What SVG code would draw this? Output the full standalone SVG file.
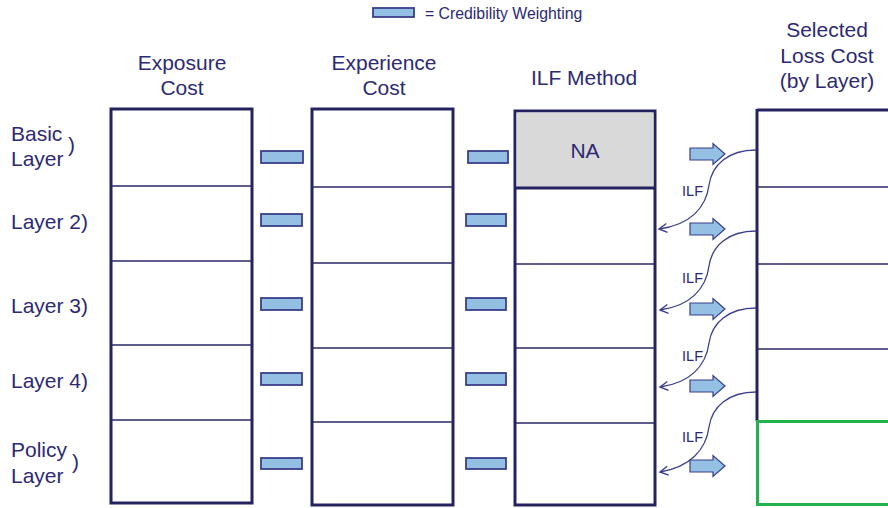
<svg xmlns="http://www.w3.org/2000/svg" width="888" height="508" viewBox="0 0 888 508">
<style>
text{font-family:"Liberation Sans",Arial,sans-serif;fill:#2d2a73}
.h{font-size:21px;text-anchor:middle}
.l{font-size:21px}
.ilf{font-size:14.5px;text-anchor:end}
.box{fill:#fff;stroke:#24235f;stroke-width:3}
.div{stroke:#2a2966;stroke-width:1.6;fill:none}
.cw{fill:#93c0e3;stroke:#3b3f8c;stroke-width:1.8}
.blk{fill:#93c0e3;stroke:#3b3f8c;stroke-width:1.2}
.crv{fill:none;stroke:#3b3f8c;stroke-width:1.3}
</style>
<defs>
<marker id="open" markerUnits="userSpaceOnUse" markerWidth="14" markerHeight="14" viewBox="-10 -7 12 14" refX="0" refY="0" orient="auto">
<path d="M-8,-4.5 L0,0 L-8,4.5" fill="none" stroke="#3b3f8c" stroke-width="1.4"/>
</marker>
<path id="blk" d="M0,-6 L23,-6 L23,-10.5 L35,0 L23,10.5 L23,6 L0,6 Z"/>
</defs>

<g id="legend">
<rect class="cw" x="373" y="8" width="41" height="9"/>
<text x="425" y="19" style="font-size:15.8px">= Credibility Weighting</text>
</g>

<g id="headers">
<text class="h" x="182" y="70">Exposure</text>
<text class="h" x="182" y="95">Cost</text>
<text class="h" x="384" y="70">Experience</text>
<text class="h" x="384" y="95">Cost</text>
<text class="h" x="584" y="85">ILF Method</text>
<text class="h" x="827" y="37">Selected</text>
<text class="h" x="827" y="63">Loss Cost</text>
<text class="h" x="827" y="88">(by Layer)</text>
</g>

<g id="row-labels">
<text class="l" x="11" y="141">Basic</text>
<text class="l" x="11" y="166">Layer</text>
<text class="l" x="68" y="152">)</text>
<text class="l" x="11" y="229">Layer 2)</text>
<text class="l" x="11" y="313">Layer 3)</text>
<text class="l" x="11" y="388">Layer 4)</text>
<text class="l" x="11" y="457">Policy</text>
<text class="l" x="11" y="483">Layer</text>
<text class="l" x="72" y="469">)</text>
</g>

<g id="exposure-cost">
<rect class="box" x="111" y="109" width="141" height="394"/>
<path class="div" d="M111,186H252M111,261H252M111,345H252M111,420H252"/>
</g>

<g id="experience-cost">
<rect class="box" x="312" y="109" width="141" height="396"/>
<path class="div" d="M312,187H453M312,263H453M312,348H453M312,422H453"/>
</g>

<g id="ilf-method">
<rect class="box" x="515" y="111" width="140" height="394"/>
<rect x="516.5" y="112.5" width="137" height="75" fill="#d9d9d9"/>
<path d="M515,188H655" stroke="#24235f" stroke-width="3"/>
<path class="div" d="M515,264H655M515,348H655M515,423H655"/>
<text class="h" x="585" y="158">NA</text>
</g>

<g id="selected-loss-cost">
<path d="M757,110H890M757,109V421" fill="none" stroke="#24235f" stroke-width="3"/>
<path class="div" d="M757,187H890M757,264H890M757,349H890"/>
<rect x="757.5" y="421.5" width="140" height="83" fill="none" stroke="#22b24c" stroke-width="3"/>
</g>

<g id="credibility-weights">
<rect class="cw" x="261" y="151" width="42" height="12"/>
<rect class="cw" x="261" y="214" width="41" height="12"/>
<rect class="cw" x="261" y="298" width="41" height="12"/>
<rect class="cw" x="261" y="373" width="41" height="12"/>
<rect class="cw" x="261" y="458" width="41" height="11"/>
<rect class="cw" x="468" y="151" width="40" height="12"/>
<rect class="cw" x="466" y="214" width="40" height="12"/>
<rect class="cw" x="466" y="298" width="40" height="12"/>
<rect class="cw" x="466" y="373" width="40" height="12"/>
<rect class="cw" x="466" y="458" width="40" height="11"/>
</g>

<g id="connectors">
<use href="#blk" class="blk" x="690" y="154"/>
<use href="#blk" class="blk" x="690" y="229"/>
<use href="#blk" class="blk" x="690" y="309"/>
<use href="#blk" class="blk" x="690" y="386"/>
<use href="#blk" class="blk" x="690" y="466"/>
<path class="crv" marker-end="url(#open)" d="M756,150 C728,150 712,165 709,185 C706,208 690,225 659,229"/>
<path class="crv" marker-end="url(#open)" d="M756,231 C728,231 712,246 709,266 C706,289 690,306 660,310"/>
<path class="crv" marker-end="url(#open)" d="M756,308 C728,308 712,323 709,343 C706,366 690,383 660,387"/>
<path class="crv" marker-end="url(#open)" d="M756,392 C728,392 712,407 709,427 C706,450 690,467 660,472"/>
<text class="ilf" x="703" y="196">ILF</text>
<text class="ilf" x="703" y="283">ILF</text>
<text class="ilf" x="703" y="361">ILF</text>
<text class="ilf" x="703" y="442">ILF</text>
</g>
</svg>
